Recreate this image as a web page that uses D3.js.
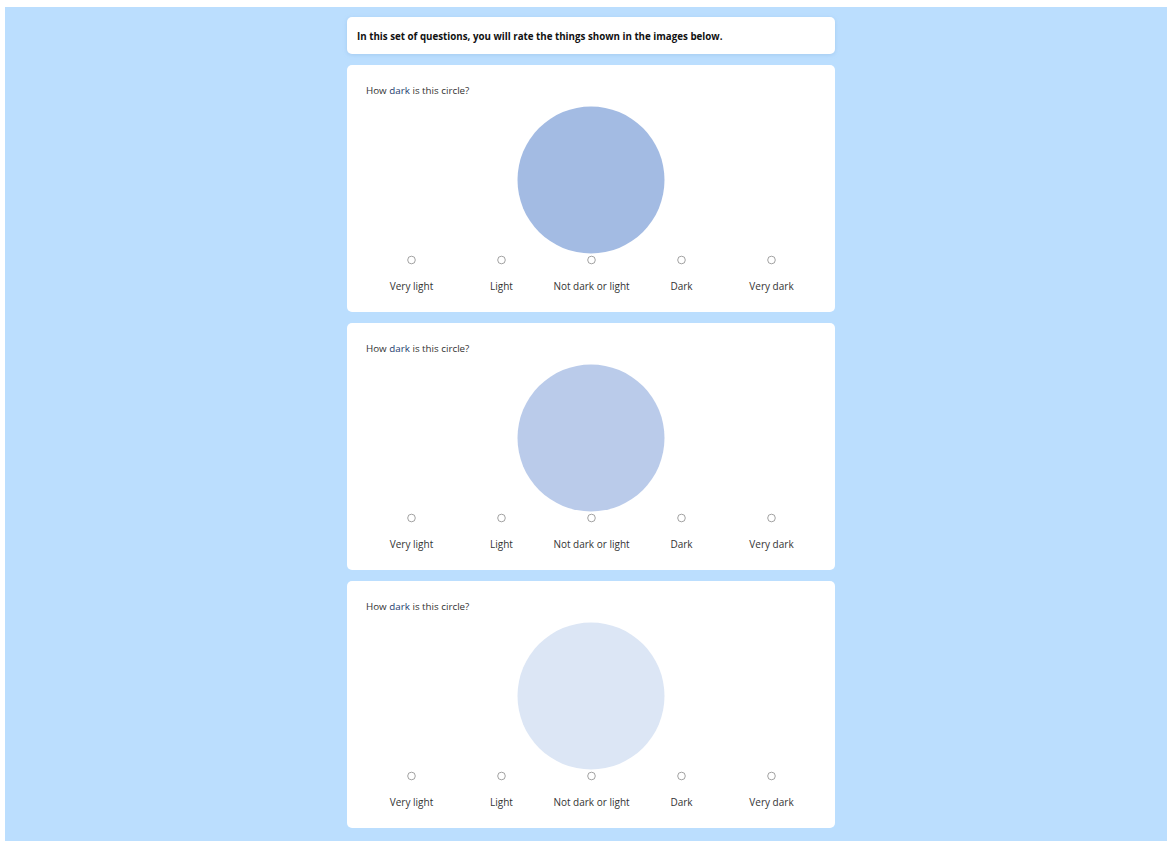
<!DOCTYPE html>
<html><head><meta charset="utf-8">
<script src="https://cdn.jsdelivr.net/npm/d3@7"></script>
<style>html,body{margin:0;padding:0;background:#fff;}svg{display:block;}</style>
</head><body>
<script>
const headerText = "In this set of questions, you will rate the things shown in the images below.";
const questionParts = [["How ", "dark", " is this circle?"], ["How ", "dark", " is this circle?"], ["How ", "dark", " is this circle?"]];
const circleColors = ["#a3bbe3", "#bacbea", "#dce6f5"];
const options = ["Very light", "Light", "Not dark or light", "Dark", "Very dark"];

const W = 1167, H = 841;
const svg = d3.select("body").append("svg").attr("width", W).attr("height", H);
svg.append("rect").attr("x", 5).attr("y", 7).attr("width", W - 5).attr("height", H - 7).attr("fill", "#bbdefe");

const defs = svg.append("defs");
const f = defs.append("filter").attr("id", "sh").attr("x", "-10%").attr("y", "-30%").attr("width", "120%").attr("height", "160%");
f.append("feDropShadow").attr("dx", 0).attr("dy", 1).attr("stdDeviation", 2).attr("flood-color", "#7aa6d6").attr("flood-opacity", 0.35);

const cardX = 347, cardW = 488;
const font = "'Open Sans', sans-serif";

// header
svg.append("rect").attr("x", cardX).attr("y", 17).attr("width", cardW).attr("height", 37).attr("rx", 5)
  .attr("fill", "#fff").attr("filter", "url(#sh)");
svg.append("text").attr("x", 357).attr("y", 39.5).attr("font-family", font).attr("font-weight", 700)
  .attr("font-size", 9.75).attr("fill", "#111").text(headerText);

const cardY = d3.scaleBand().domain(d3.range(questionParts.length)).range([65, 65 + 258 * 3]).paddingInner(0).paddingOuter(0);
const xOpt = d3.scalePoint().domain(options).range([411.5, 771.5]);

const cards = svg.selectAll("g.card").data(questionParts).join("g").attr("class", "card")
  .attr("transform", (d, i) => `translate(0,${cardY(i)})`);

cards.append("rect").attr("x", cardX).attr("y", 0).attr("width", cardW).attr("height", 247).attr("rx", 5).attr("fill", "#fff");
cards.append("text").attr("x", 366).attr("y", 29).attr("font-family", font).attr("font-size", 9.8)
  .attr("fill", "#333")
  .selectAll("tspan").data(d => d).join("tspan")
  .attr("fill", (d, i) => i === 1 ? "#1d3b6e" : "#333").text(d => d);
cards.append("circle").attr("cx", 591).attr("cy", 115).attr("r", 73.5)
  .attr("fill", (d, i) => circleColors[i]);

cards.each(function () {
  const g = d3.select(this);
  g.selectAll("circle.opt").data(options).join("circle").attr("class", "opt")
    .attr("cx", d => xOpt(d)).attr("cy", 195).attr("r", 3.8)
    .attr("fill", "#fff").attr("stroke", "#8a8a8a").attr("stroke-width", 0.8);
  g.selectAll("text.opt").data(options).join("text").attr("class", "opt")
    .attr("x", d => xOpt(d)).attr("y", 225).attr("text-anchor", "middle")
    .attr("font-family", font).attr("font-size", 10).attr("fill", "#333").text(d => d);
});
</script>
</body></html>
